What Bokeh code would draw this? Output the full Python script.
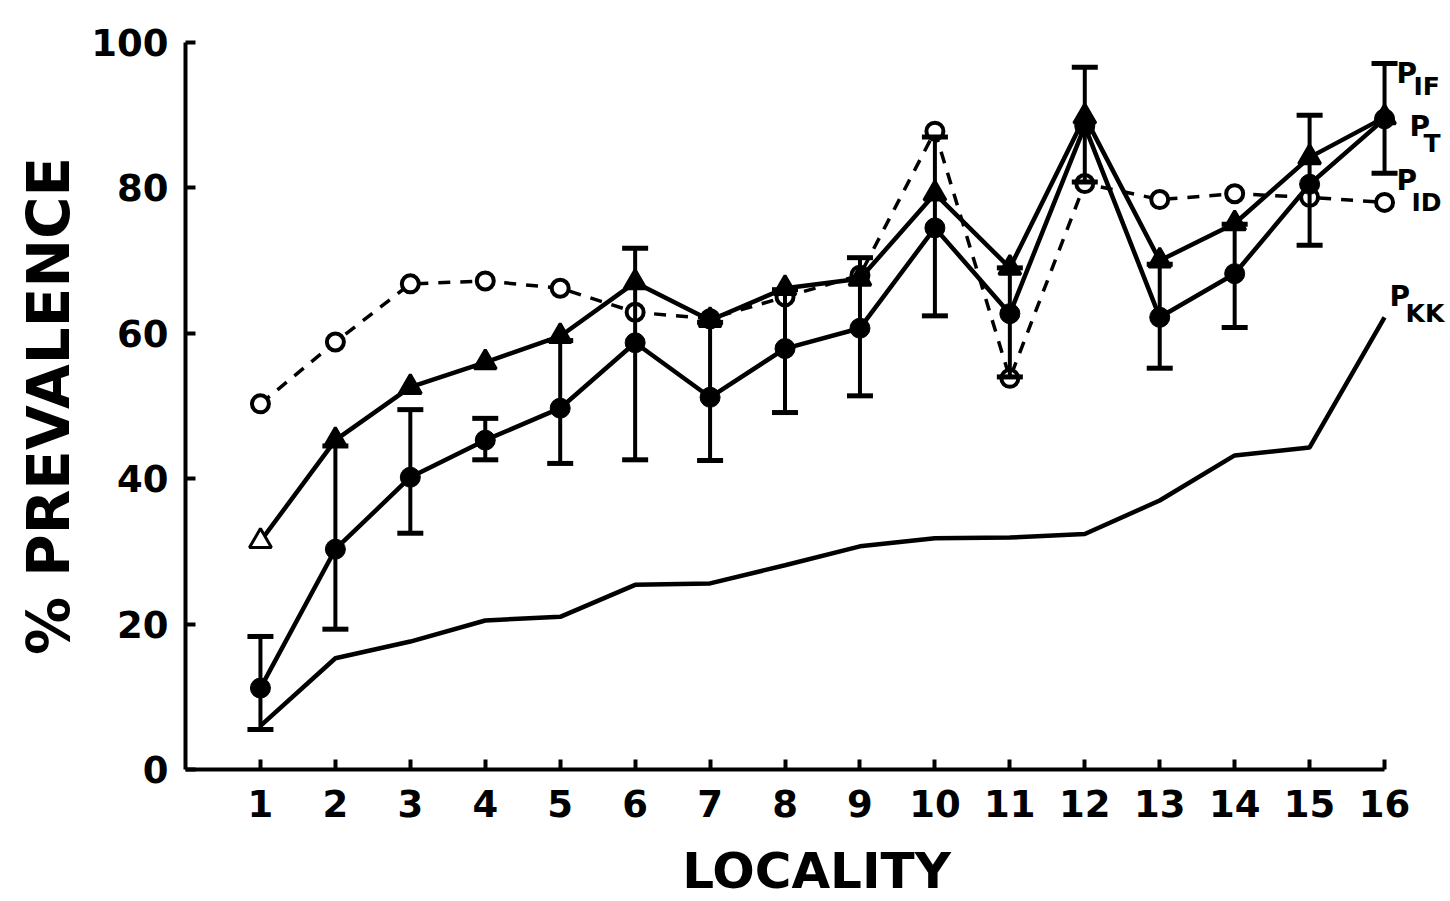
from bokeh.plotting import figure
from bokeh.models import Range1d, ColumnDataSource, Whisker, TeeHead, Label, FixedTicker
from bokeh.embed import file_html
from bokeh.resources import INLINE

locality = list(range(1, 17))
tick_labels = [str(i) for i in locality]
y_ticks = [0, 20, 40, 60, 80, 100]

p_if = [31.4, 45.3, 52.6, 56.0, 59.6, 67.0, 61.8, 66.2, 67.5, 79.2, 69.0, 89.8, 70.0, 75.1, 84.2, 89.7]
p_t = [11.2, 30.3, 40.2, 45.3, 49.7, 58.7, 51.2, 57.9, 60.7, 74.5, 62.7, 88.5, 62.2, 68.2, 80.5, 89.5]
p_t_upper = [18.3, 44.5, 49.5, 48.3, 59.0, 71.7, 61.5, 66.0, 70.4, 87.0, 69.0, 96.6, 69.5, 75.0, 90.0, 97.1]
p_t_lower = [5.5, 19.3, 32.5, 42.6, 42.1, 42.6, 42.5, 49.1, 51.4, 62.4, 54.0, 80.8, 55.2, 60.8, 72.1, 82.0]
p_id = [50.3, 58.8, 66.8, 67.2, 66.2, 62.9, 62.0, 65.0, 68.0, 87.8, 53.8, 80.6, 78.4, 79.2, 78.7, 78.0]
p_kk = [6.0, 15.3, 17.6, 20.5, 21.0, 25.4, 25.6, 28.1, 30.7, 31.8, 31.9, 32.4, 37.0, 43.2, 44.3, 62.2]

FONT = "DejaVu Sans"

p = figure(frame_width=1262, frame_height=727,
           x_range=Range1d(0, 16.84), y_range=Range1d(0, 100),
           output_backend="svg", toolbar_location=None,
           min_border_left=185, min_border_right=2, min_border_top=42, min_border_bottom=125)
p.grid.visible = False
p.outline_line_color = None
p.background_fill_color = "white"

# axes
p.xaxis.bounds = (0, 16)
p.xaxis.ticker = FixedTicker(ticks=locality)
p.xaxis.major_label_overrides = {i: s for i, s in zip(locality, tick_labels)}
p.yaxis.ticker = FixedTicker(ticks=y_ticks)
for ax in (p.xaxis[0], p.yaxis[0]):
    ax.axis_line_width = 4
    ax.axis_line_color = "black"
    ax.major_tick_in = 10
    ax.major_tick_out = 0
    ax.major_tick_line_width = 4
    ax.minor_tick_line_color = None
    ax.major_label_text_font = FONT
    ax.major_label_text_font_style = "bold"
    ax.major_label_text_font_size = "37px"
    ax.major_label_text_color = "black"
    ax.axis_label_text_font = FONT
    ax.axis_label_text_font_style = "bold"
    ax.axis_label_text_color = "black"
p.xaxis.major_label_standoff = 20
p.yaxis.major_label_standoff = 17
p.xaxis.axis_label = "LOCALITY"
p.xaxis.axis_label_text_font_size = "50px"
p.xaxis.axis_label_standoff = 22
p.yaxis.axis_label = "% PREVALENCE"
p.yaxis.axis_label_text_font_size = "58px"
p.yaxis.axis_label_standoff = 5

# P_KK
p.line(locality, p_kk, line_color="black", line_width=4.5)

# P_ID dashed with open circles
p.line(locality, p_id, line_color="black", line_width=3.5, line_dash="12 10")
p.scatter(locality, p_id, marker="circle", size=17, fill_color="white", line_color="black", line_width=4)

# P_IF line
if_fill = ["white"] + ["black"] * (len(p_if) - 1)
src_if = ColumnDataSource(dict(x=locality, y=p_if, fill=if_fill))
p.line("x", "y", source=src_if, line_color="black", line_width=4.5)

# P_T with error bars
src_t = ColumnDataSource(dict(x=locality, y=p_t, upper=p_t_upper, lower=p_t_lower))
w = Whisker(base="x", upper="upper", lower="lower", source=src_t,
            line_color="black", line_width=4,
            upper_head=TeeHead(size=26, line_width=5, line_color="black"),
            lower_head=TeeHead(size=26, line_width=5, line_color="black"))
w.level = "glyph"
p.add_layout(w)
p.line("x", "y", source=src_t, line_color="black", line_width=4.5)
p.scatter("x", "y", source=src_t, marker="circle", size=20, fill_color="black", line_color="black")
p.scatter("x", "y", source=src_if, marker="triangle", size=22, fill_color="fill", line_color="black", line_width=3)

# series labels at the right end
def series_label(yval, sub, dx_p, dy_p, dx_s, dy_s):
    for txt, dx, dy, fs in (("P", dx_p, dy_p, "28px"), (sub, dx_s, dy_s, "25px")):
        p.add_layout(Label(x=locality[-1], y=yval, x_offset=dx, y_offset=dy, text=txt,
                           text_font=FONT, text_font_style="bold", text_font_size=fs,
                           text_baseline="top", text_align="left", text_color="black"))

series_label(p_if[-1], "IF", 12, 60, 29, 45)
series_label(p_t[-1], "T", 25, 9, 39, -10)
series_label(p_id[-1], "ID", 12, 38, 27, 14)
series_label(p_kk[-1], "KK", 5, 37, 21, 18)

open("out.html", "w").write(file_html(p, INLINE))
